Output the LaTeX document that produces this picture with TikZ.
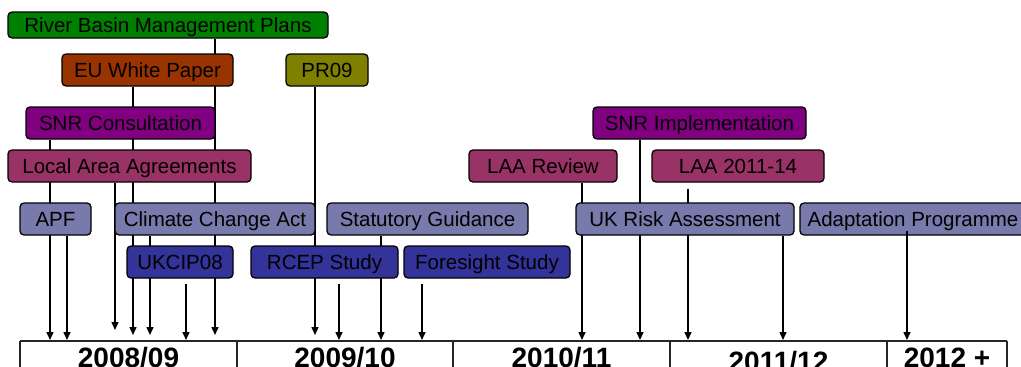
\documentclass[tikz,border=0pt]{standalone}
\usepackage{fontspec}
\setmainfont{Liberation Sans}
\usetikzlibrary{arrows.meta}
\definecolor{cgreen}{RGB}{0,128,0}
\definecolor{cbrown}{RGB}{153,51,0}
\definecolor{colive}{RGB}{128,128,0}
\definecolor{cpurple}{RGB}{128,0,128}
\definecolor{claa}{RGB}{153,51,102}
\definecolor{clav}{RGB}{119,122,170}
\definecolor{cdblue}{RGB}{51,51,153}
\tikzset{
  ev/.style={draw=black, line width=1.3pt, rounded corners=4pt, inner sep=0pt,
    minimum height=32pt, text=black, text height=14.7pt, text depth=0pt,
    font=\fontsize{20.5pt}{24pt}\selectfont},
  arr/.style={line width=1.5pt, -{Triangle[width=7pt,length=8pt]}},
  grid/.style={line width=1.2pt, draw=black!85},
  yr/.style={font=\fontsize{28pt}{32pt}\selectfont\bfseries, anchor=base}
}
\pgfdeclarelayer{bg}\pgfsetlayers{bg,main}
\begin{document}
\begin{tikzpicture}[x=1pt,y=-1pt]
\useasboundingbox (0,0) rectangle (1021,367);
% arrow targets
\foreach \n/\x/\y in {a50/50/340, a67/67/340, a115/115/330, a133/133/335, a150/150/335,
  a186/186/340, a215/215/335, a315/315/335, a339/339/340, a381/381/340, a422/422/340,
  a582/582/340, a640/640/340, a688/688/340, a783/783/340, a907/907/340}
  \coordinate (\n) at (\x,\y);
% boxes
\path
  (168,25)    node[ev, fill=cgreen,  minimum width=320pt, minimum height=26pt] (rbmp) {River Basin Management Plans}
  (147.5,70)  node[ev, fill=cbrown,  minimum width=171pt] (euwp) {EU White Paper}
  (327,70)    node[ev, fill=colive,  minimum width=82pt]  (pr09) {PR09}
  (120.5,123) node[ev, fill=cpurple, minimum width=189pt] (snrc) {SNR Consultation}
  (129.5,166) node[ev, fill=claa,    minimum width=243pt] (laa) {Local Area Agreements}
  (55.5,219)  node[ev, fill=clav,    minimum width=71pt]  (apf) {APF}
  (215,219)   node[ev, fill=clav,    minimum width=200pt] (cca) {Climate Change Act}
  (180,262)   node[ev, fill=cdblue,  minimum width=106pt] (ukcip) {UKCIP08}
  (324.5,262) node[ev, fill=cdblue,  minimum width=147pt] (rcep) {RCEP Study}
  (487,262)   node[ev, fill=cdblue,  minimum width=166pt] (fore) {Foresight Study}
  (427.5,219) node[ev, fill=clav,    minimum width=201pt] (stat) {Statutory Guidance}
  (543,166)   node[ev, fill=claa,    minimum width=148pt] (laarev) {LAA Review}
  (699.5,123) node[ev, fill=cpurple, minimum width=213pt] (snri) {SNR Implementation}
  (738,166)   node[ev, fill=claa,    minimum width=172pt] (laa14) {LAA 2011-14}
  (685,219)   node[ev, fill=clav,    minimum width=218pt] (ukra) {UK Risk Assessment}
  (913,219)   node[ev, fill=clav,    minimum width=226pt] (adapt) {Adaptation Programme};
% connectors (behind boxes)
\begin{pgfonlayer}{bg}
  \draw[arr] (rbmp.south -| a215) -- (a215);
  \draw[arr] (euwp.south -| a133) -- (a133);
  \draw[arr] (snrc.south -| a50) -- (a50);
  \draw[arr] (laa.south -| a115) -- (a115);
  \draw[arr] (apf.south -| a67) -- (a67);
  \draw[arr] (cca.south -| a150) -- (a150);
  \draw[arr] ([yshift=-5pt]ukcip.south -| a186) -- (a186);
  \draw[arr] (pr09.south -| a315) -- (a315);
  \draw[arr] ([yshift=-5pt]rcep.south -| a339) -- (a339);
  \draw[arr] (stat.south -| a381) -- (a381);
  \draw[arr] ([yshift=-5pt]fore.south -| a422) -- (a422);
  \draw[arr] (laarev.south -| a582) -- (a582);
  \draw[arr] (snri.south -| a640) -- (a640);
  \draw[arr] ([yshift=-6pt]laa14.south -| a688) -- (a688);
  \draw[arr] (ukra.south -| a783) -- (a783);
\end{pgfonlayer}
\draw[arr] ([yshift=5pt]adapt.south -| a907) -- (a907);
% timeline table
\coordinate (tl) at (20,341);
\coordinate (tr) at (1007,341);
\draw[grid] (tl) -- (tr);
\foreach \x in {20,237,453,670,887,1007}
  \draw[grid] (\x,341) -- (\x,380);
\node[yr] (y1) at (128.5,367) {2008/09};
\node[yr] (y2) at (345,367) {2009/10};
\node[yr] (y3) at (561.5,367) {2010/11};
\node[yr] (y4) at (778.5,371) {2011/12};
\node[yr] (y5) at (947,367) {2012 +};
\end{tikzpicture}
\end{document}
